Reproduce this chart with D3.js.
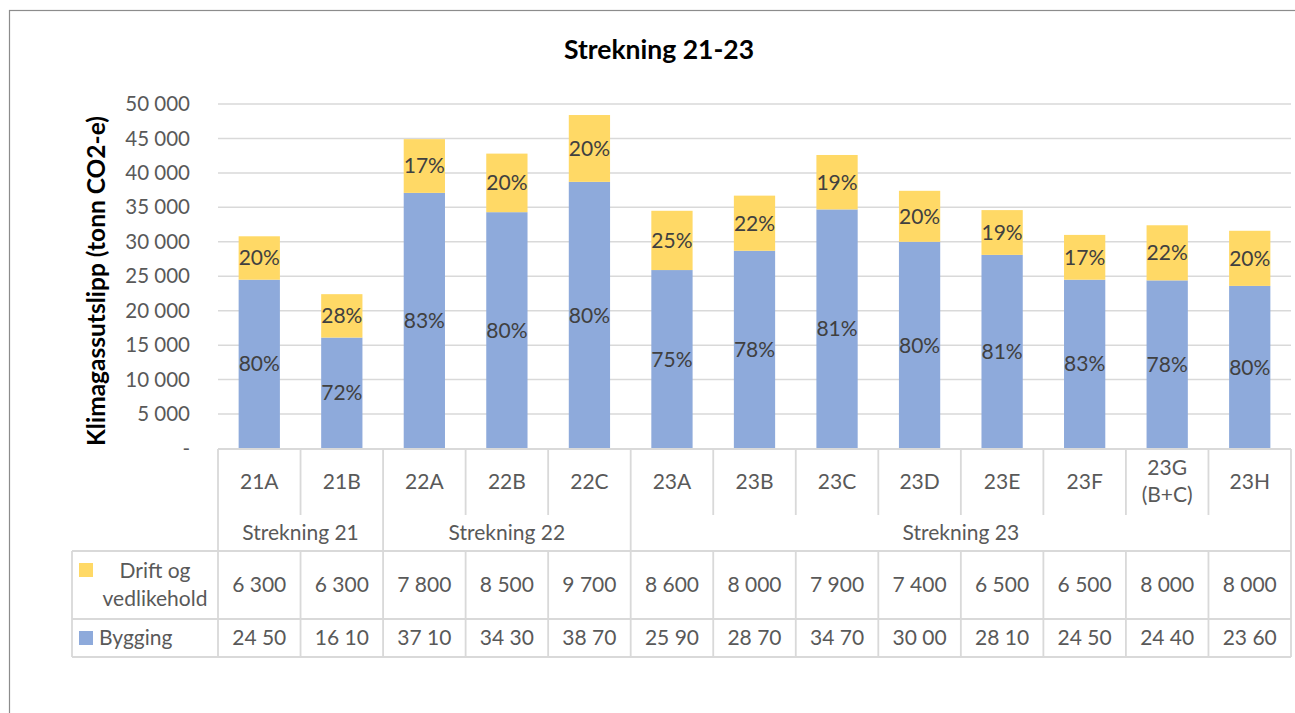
<!DOCTYPE html>
<html>
<head>
<meta charset="utf-8">
<script src="https://cdn.jsdelivr.net/npm/d3@7"></script>
<style>
  body { margin: 0; background: #fff; }
  text { font-family: Lato, "Noto Sans", sans-serif; }
</style>
</head>
<body>
<div id="chart"></div>
<script>
// categories and groups
var categories = ["21A", "21B", "22A", "22B", "22C", "23A", "23B", "23C", "23D", "23E", "23F", "23G (B+C)", "23H"];
var groupNames = ["Strekning 21", "Strekning 22", "Strekning 23"];
var groupSizes = [2, 3, 8];

// series values (tonn CO2-e)
var bygging = [24500, 16100, 37100, 34300, 38700, 25900, 28700, 34700, 30000, 28100, 24500, 24400, 23600];
var drift = [6300, 6300, 7800, 8500, 9700, 8600, 8000, 7900, 7400, 6500, 6500, 8000, 8000];

// percent labels as printed on the bars
var byggingPct = ["80%", "72%", "83%", "80%", "80%", "75%", "78%", "81%", "80%", "81%", "83%", "78%", "80%"];
var driftPct = ["20%", "28%", "17%", "20%", "20%", "25%", "22%", "19%", "20%", "19%", "17%", "22%", "20%"];

// data table text (bygging column is cut off in the original)
var byggingCellText = ["24 50", "16 10", "37 10", "34 30", "38 70", "25 90", "28 70", "34 70", "30 00", "28 10", "24 50", "24 40", "23 60"];

var yTicks = [0, 5000, 10000, 15000, 20000, 25000, 30000, 35000, 40000, 45000, 50000];

var W = 1295, H = 713;
var gridColor = "#d9d9d9";
var textColor = "#595959";
var colBygg = "#8eaadb", colDrift = "#ffd966";

var nb = d3.formatLocale({decimal: ",", thousands: " ", grouping: [3], currency: ["", ""]});
var fmt = nb.format(",d");

var svg = d3.select("#chart").append("svg").attr("width", W).attr("height", H);

// outer chart border (runs off the page on right/bottom)
svg.append("rect")
    .attr("x", 9.5).attr("y", 10.5)
    .attr("width", W + 20).attr("height", H + 20)
    .attr("fill", "none").attr("stroke", "#8c8c8c").attr("stroke-width", 1.2);

var x = d3.scaleBand().domain(categories).range([218, 1291]).paddingInner(0.5).paddingOuter(0.25);
var y = d3.scaleLinear().domain([0, 50000]).range([448.5, 104]);
var step = x.step();
function left(i) { return 218 + i * step; }

// gridlines
svg.append("g").selectAll("line").data(yTicks.slice(1)).enter().append("line")
    .attr("x1", 218).attr("x2", 1291)
    .attr("y1", function(d) { return y(d); }).attr("y2", function(d) { return y(d); })
    .attr("stroke", gridColor).attr("stroke-width", 1.5);

// y axis labels
var yAxis = d3.axisLeft(y).tickValues(yTicks).tickSize(0).tickPadding(0)
    .tickFormat(function(d) { return d === 0 ? "-" : fmt(d); });
var ya = svg.append("g").attr("transform", "translate(190,0)").call(yAxis);
ya.select(".domain").remove();
ya.selectAll("text").attr("font-size", 20.5).attr("fill", textColor)
    .attr("font-family", "Lato, 'Noto Sans', sans-serif");

// stacked bars
var stackData = categories.map(function(c, i) { return {cat: c, bygging: bygging[i], drift: drift[i]}; });
var series = d3.stack().keys(["bygging", "drift"])(stackData);
var colors = {bygging: colBygg, drift: colDrift};
var pctLabels = {bygging: byggingPct, drift: driftPct};

var layers = svg.append("g").selectAll("g").data(series).enter().append("g")
    .attr("fill", function(s) { return colors[s.key]; });
layers.selectAll("rect").data(function(s) { return s; }).enter().append("rect")
    .attr("x", function(d) { return x(d.data.cat); })
    .attr("width", x.bandwidth())
    .attr("y", function(d) { return y(d[1]); })
    .attr("height", function(d) { return y(d[0]) - y(d[1]); });

series.forEach(function(s) {
    svg.append("g").selectAll("text").data(s).enter().append("text")
        .attr("x", function(d) { return x(d.data.cat) + x.bandwidth() / 2; })
        .attr("y", function(d) { return (y(d[0]) + y(d[1])) / 2; })
        .attr("dy", "0.35em")
        .attr("text-anchor", "middle")
        .attr("font-size", 21)
        .attr("fill", "#404040")
        .text(function(d, i) { return pctLabels[s.key][i]; });
});

// title
svg.append("text").attr("x", 659).attr("y", 59).attr("text-anchor", "middle")
    .attr("font-size", 26.5).attr("font-weight", "bold").attr("fill", "#000")
    .text("Strekning 21-23");

// y axis title
svg.append("text").attr("transform", "translate(105,281) rotate(-90)")
    .attr("text-anchor", "middle").attr("font-size", 24.5).attr("font-weight", "bold").attr("fill", "#000")
    .text("Klimagassutslipp (tonn CO2-e)");

// ---- data table under the axis ----
var tbl = svg.append("g").attr("stroke", gridColor).attr("stroke-width", 1.8);
var rowCatTop = 449, rowCatBot = 515, rowGrpBot = 551, rowDriftBot = 619, rowByggBot = 657;

function hline(x1, x2, yy) { tbl.append("line").attr("x1", x1).attr("x2", x2).attr("y1", yy).attr("y2", yy); }
function vline(xx, y1, y2) { tbl.append("line").attr("x1", xx).attr("x2", xx).attr("y1", y1).attr("y2", y2); }

hline(218, 1291, rowCatTop);
hline(72, 1291, rowGrpBot);
hline(72, 1291, rowDriftBot);
hline(72, 1291, rowByggBot);
vline(72, rowGrpBot, rowByggBot);
vline(218, rowCatTop, rowByggBot);
vline(1291, rowCatTop, rowByggBot);

// group boundaries
var groupStart = [];
var acc = 0;
groupSizes.forEach(function(n) { groupStart.push(acc); acc += n; });
for (var i = 1; i < categories.length; i++) {
    var isGroupEdge = groupStart.indexOf(i) >= 0;
    if (isGroupEdge) {
        vline(left(i), rowCatTop, rowByggBot);
    } else {
        vline(left(i), rowCatTop, rowCatBot);
        vline(left(i), rowGrpBot, rowByggBot);
    }
}

var tg = svg.append("g").attr("font-size", 21).attr("fill", textColor).attr("text-anchor", "middle");

// category labels
categories.forEach(function(c, i) {
    var cx = left(i) + step / 2;
    var parts = c.split(" ");
    var t = tg.append("text").attr("x", cx).attr("y", 482);
    if (parts.length === 1) {
        t.attr("dy", "0.35em").text(c);
    } else {
        t.append("tspan").attr("x", cx).attr("y", 468).attr("dy", "0.35em").text(parts[0]);
        t.append("tspan").attr("x", cx).attr("y", 495).attr("dy", "0.35em").text(parts[1]);
    }
});

// group labels
groupNames.forEach(function(g, gi) {
    var x0 = left(groupStart[gi]);
    var x1 = left(groupStart[gi] + groupSizes[gi]);
    tg.append("text").attr("x", (x0 + x1) / 2).attr("y", 533).attr("dy", "0.35em").text(g);
});

// value rows
drift.forEach(function(v, i) {
    tg.append("text").attr("x", left(i) + step / 2).attr("y", 585).attr("dy", "0.35em").text(fmt(v));
});
byggingCellText.forEach(function(t, i) {
    tg.append("text").attr("x", left(i) + step / 2).attr("y", 638).attr("dy", "0.35em").text(t);
});

// legend keys in the table
svg.append("rect").attr("x", 79).attr("y", 563).attr("width", 14).attr("height", 14).attr("fill", colDrift);
svg.append("rect").attr("x", 79).attr("y", 631).attr("width", 14).attr("height", 14).attr("fill", colBygg);
tg.append("text").attr("x", 155).attr("y", 571).attr("dy", "0.35em").text("Drift og");
tg.append("text").attr("x", 155).attr("y", 599).attr("dy", "0.35em").text("vedlikehold");
tg.append("text").attr("x", 99).attr("y", 638).attr("dy", "0.35em").attr("text-anchor", "start").text("Bygging");
</script>
</body>
</html>
